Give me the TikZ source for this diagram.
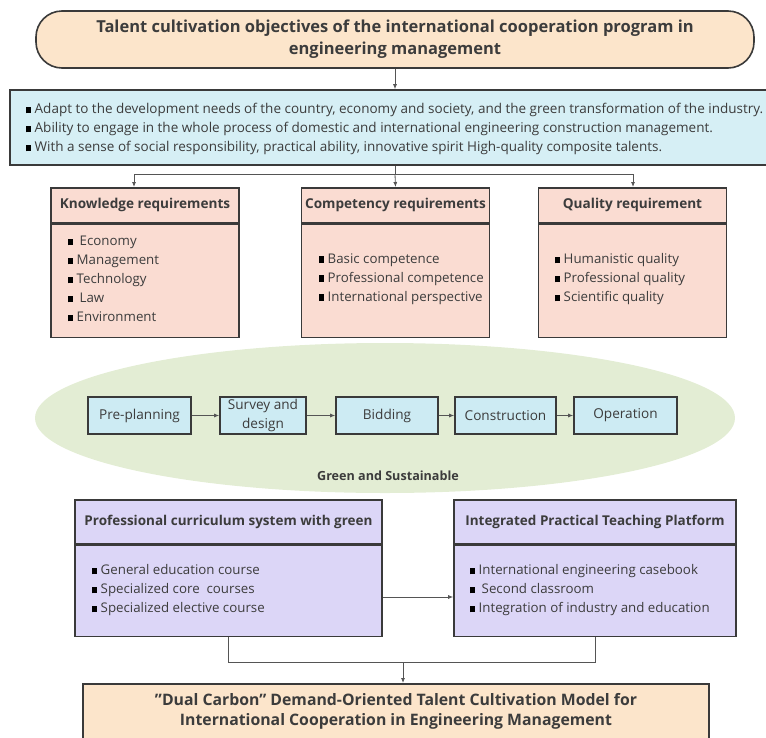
\documentclass[tikz,border=0pt]{standalone}
\usepackage{fontspec}
\setmainfont{Open Sans}
\usetikzlibrary{arrows.meta,calc}
\definecolor{peach}{HTML}{FCE5CB}
\definecolor{skyb}{HTML}{D6EFF5}
\definecolor{pinkr}{HTML}{FADCD2}
\definecolor{lilac}{HTML}{DCD6F7}
\definecolor{leaf}{HTML}{E3EDD4}
\definecolor{procb}{HTML}{CDEBF3}
\definecolor{edge}{HTML}{3A3A3A}
\definecolor{wire}{HTML}{555555}
\definecolor{ink}{HTML}{3C3C3C}
\newcommand{\bul}{{\color{black}\rule[0.2pt]{5pt}{6.6pt}}\hspace{3.5pt}}
\begin{document}
\begin{tikzpicture}[x=1pt,y=-1pt,
  box/.style={draw=edge,line width=1.6pt,inner sep=0pt},
  hdr/.style={box,fill=pinkr,minimum width=188pt,minimum height=35pt,anchor=north,
    font=\bfseries\fontsize{13.6}{16}\selectfont,text=ink},
  bdy/.style={box,fill=pinkr,minimum width=188pt,minimum height=113pt,anchor=north},
  phdr/.style={box,fill=lilac,minimum height=44pt,anchor=north,
    font=\bfseries\fontsize{13.5}{16}\selectfont,text=ink},
  pbdy/.style={box,fill=lilac,minimum height=91pt,anchor=north},
  items/.style={anchor=west,align=left,inner sep=0pt,text=ink,
    font=\fontsize{13.3}{19}\selectfont},
  proc/.style={box,fill=procb,minimum height=37pt,text=ink,align=center,
    font=\fontsize{13.6}{19}\selectfont},
  wireline/.style={draw=wire,line width=0.8pt},
  arr/.style={wireline,-{Latex[length=5pt,width=4pt]}}]
\useasboundingbox (0,0) rectangle (766,737);

% title
\node[box,fill=peach,rounded corners=26pt,minimum width=718pt,minimum height=57pt,
  align=center,text=ink,font=\bfseries\fontsize{16.5}{22}\selectfont] (top) at (395,39.5)
  {Talent cultivation objectives of the international cooperation program in\\engineering management};

% objectives
\node[box,fill=skyb,minimum width=770pt,minimum height=75pt] (goal) at (395,127.5) {};
\node[items,font=\fontsize{13.5}{19}\selectfont] (goaltxt) at (26,129)
  {\bul Adapt to the development needs of the country, economy and society, and the green transformation of the industry.\\
   \bul Ability to engage in the whole process of domestic and international engineering construction management.\\
   \bul With a sense of social responsibility, practical ability, innovative spirit High-quality composite talents.};
\draw[arr] (top.south) -- (goal.north);

% requirement boxes
\node[hdr] (kh) at (145,187) {Knowledge requirements};
\node[bdy] (kb) at (kh.south) {};
\node[hdr] (ch) at (395.5,187) {Competency requirements};
\node[bdy] (cb) at (ch.south) {};
\node[hdr] (qh) at (632.5,187) {Quality requirement};
\node[bdy] (qb) at (qh.south) {};

\node[items] (kt) at (68,279)
  {\bul\hspace{3pt}Economy\\ \bul Management\\ \bul Technology\\ \bul\hspace{3pt}Law\\ \bul Environment};
\node[items] (ct) at (319,279)
  {\bul Basic competence\\ \bul Professional competence\\ \bul International perspective};
\node[items] (qt) at (555,279)
  {\bul Humanistic quality\\ \bul Professional quality\\ \bul Scientific quality};

\coordinate (j1) at (395,174);
\coordinate (ka) at (134,187);
\coordinate (qa) at (633,187);
\draw[wireline] (goal.south) -- (j1);
\draw[wireline] (ka |- j1) -- (qa |- j1);
\draw[arr] (ka |- j1) -- (ka);
\draw[arr] (j1) -- (ch.north);
\draw[arr] (qa |- j1) -- (qa);

% green ellipse
\fill[leaf] (385,418) ellipse [x radius=350pt, y radius=75pt];
\node[proc,minimum width=103pt] (p1) at (139.5,415.5) {Pre-planning};
\node[proc,minimum width=86pt] (p2) at (263,415.5) {Survey and\\design};
\node[proc,minimum width=102pt] (p3) at (387,415.5) {Bidding};
\node[proc,minimum width=101pt] (p4) at (505.5,415.5) {Construction};
\node[proc,minimum width=103pt] (p5) at (625.5,415.5) {Operation};
\draw[arr] (p1) -- (p2);
\draw[arr] (p2) -- (p3);
\draw[arr] (p3) -- (p4);
\draw[arr] (p4) -- (p5);
\node[text=ink,font=\bfseries\fontsize{12.6}{15}\selectfont] (green) at (388,476) {Green and Sustainable};

% curriculum and platform
\node[phdr,minimum width=307pt] (lh) at (228.5,499) {Professional curriculum system with green};
\node[pbdy,minimum width=307pt] (lb) at (lh.south) {};
\node[phdr,minimum width=282pt] (rh) at (595,499) {Integrated Practical Teaching Platform};
\node[pbdy,minimum width=282pt] (rb) at (rh.south) {};
\node[items] (lt) at (92,590)
  {\bul General education course\\ \bul Specialized core\ \ courses\\ \bul Specialized elective course};
\node[items] (rt) at (470,590)
  {\bul International engineering casebook\\ \bul\hspace{3pt}Second classroom\\ \bul Integration of industry and education};
\coordinate (ay) at (0,597);
\draw[arr] (lb.east |- ay) -- (rb.west |- ay);

% final model
\node[box,fill=peach,minimum width=626pt,minimum height=80pt,anchor=north] (bot) at (396,683) {};
\node[align=center,text=ink,font=\bfseries\fontsize{15.8}{20}\selectfont] (bottxt) at (396,711)
  {"Dual Carbon" Demand-Oriented Talent Cultivation Model for\\International Cooperation in Engineering Management};
\coordinate (mj) at (403,662);
\draw[wireline] (lb.south) |- (mj) -| (rb.south);
\draw[arr] (mj) -- (mj |- bot.north);
\end{tikzpicture}
\end{document}
